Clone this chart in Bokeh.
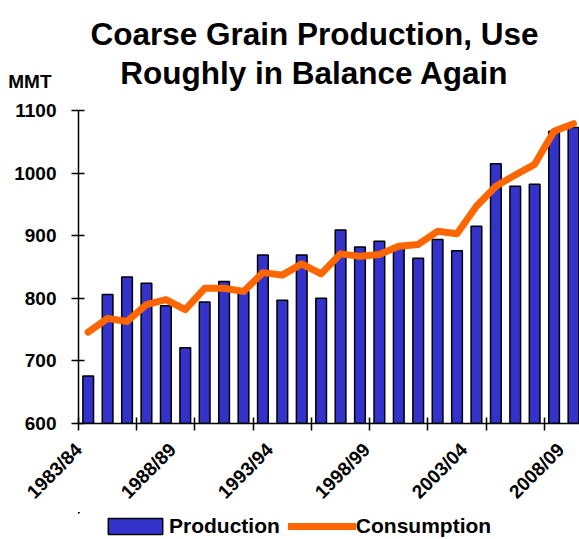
import math
from bokeh.plotting import figure
from bokeh.layouts import column
from bokeh.models import (Range1d, FixedTicker, Legend, LegendItem, ColumnDataSource)
from bokeh.core.properties import value
from bokeh.embed import file_html
from bokeh.resources import INLINE

# ---- data ----
years = ["1983/84", "1984/85", "1985/86", "1986/87", "1987/88", "1988/89",
         "1989/90", "1990/91", "1991/92", "1992/93", "1993/94", "1994/95",
         "1995/96", "1996/97", "1997/98", "1998/99", "1999/00", "2000/01",
         "2001/02", "2002/03", "2003/04", "2004/05", "2005/06", "2006/07",
         "2007/08", "2008/09"]
production = [676, 806, 834, 824, 788, 721, 794, 827, 811, 869, 797, 869,
              800, 909, 882, 891, 880, 864, 894, 876, 915, 1015, 979, 982,
              1067, 1073]
consumption = [746, 768, 763, 790, 798, 782, 816, 816, 811, 841, 837, 855,
               839, 871, 867, 870, 883, 886, 907, 903, 947, 979, 997, 1014,
               1067, 1079]
y_ticks = [600, 700, 800, 900, 1000, 1100]
label_years = ["1983/84", "1988/89", "1993/94", "1998/99", "2003/04", "2008/09"]
title_lines = ["Coarse Grain Production, Use", "Roughly in Balance Again"]
unit_label = "MMT"

FONT = "Liberation Sans"
W = 579
LEFT = 78
HEAD_H = 96
LEG_H = 27
TOTAL_H = 539

idx = list(range(len(years)))
src = ColumnDataSource(dict(x=idx, year=years, production=production,
                            consumption=consumption))
X_RANGE = (-0.5, 25.31)


def style_bold(axis, size):
    axis.major_label_text_font = FONT
    axis.major_label_text_font_size = size
    axis.major_label_text_font_style = "bold"
    axis.major_label_text_color = "black"


# ---- header (title + unit label) ----
head = figure(width=W, height=HEAD_H, x_range=Range1d(LEFT, W),
              y_range=Range1d(HEAD_H, 0), output_backend="svg",
              toolbar_location=None, min_border_left=LEFT, min_border_right=0,
              min_border_top=0, min_border_bottom=0, x_axis_type=None)
head.outline_line_color = None
head.background_fill_color = "white"
head.border_fill_color = "white"
head.ygrid.visible = False
hax = head.yaxis[0]
hax.ticker = FixedTicker(ticks=[81], minor_ticks=[])
hax.major_label_overrides = {81: unit_label}
hax.axis_line_color = None
hax.major_tick_line_color = None
hax.minor_tick_line_color = None
hax.major_tick_in = 0
hax.major_tick_out = 0
hax.major_label_standoff = 27
style_bold(hax, "19px")
head.text(x=[314, 314], y=[33, 72], text=title_lines, text_align="center",
          text_baseline="alphabetic", text_font=value(FONT),
          text_font_size="31.5px", text_font_style="bold", text_color="black")

# ---- main chart ----
p = figure(width=W, height=TOTAL_H - HEAD_H - LEG_H,
           x_range=Range1d(*X_RANGE), y_range=Range1d(600, 1100),
           output_backend="svg", toolbar_location=None,
           min_border_left=LEFT, min_border_right=0, min_border_top=14,
           min_border_bottom=89)
p.outline_line_color = None
p.xgrid.visible = False
p.ygrid.visible = False
p.background_fill_color = "white"
p.border_fill_color = "white"

p.vbar(x="x", top="production", bottom=600, width=0.55, source=src,
       fill_color="#3333CC", line_color="black", line_width=1.5)
p.line(x="x", y="consumption", source=src, line_color="#FF6600",
       line_width=7, line_join="round", line_cap="round")

yax = p.yaxis[0]
yax.ticker = FixedTicker(ticks=y_ticks, minor_ticks=[])
yax.major_tick_in = 6
yax.major_tick_out = 7
yax.major_tick_line_width = 1.5
yax.axis_line_width = 1.5
yax.axis_line_color = "black"
yax.major_label_standoff = 15
style_bold(yax, "19px")

label_pos = [max(X_RANGE[0] + 0.01, years.index(y) - 0.65) for y in label_years]
minor = [i - 0.5 for i in range(0, len(years), 3)]
xax = p.xaxis[0]
xax.ticker = FixedTicker(ticks=label_pos, minor_ticks=minor)
xax.major_label_overrides = {pos: lab for pos, lab in zip(label_pos, label_years)}
xax.major_tick_line_color = None
xax.major_tick_in = 0
xax.major_tick_out = 0
xax.minor_tick_line_color = "black"
xax.minor_tick_line_width = 1.5
xax.minor_tick_in = 6
xax.minor_tick_out = 7
xax.axis_line_width = 1.5
xax.axis_line_color = "black"
xax.major_label_orientation = math.pi / 4
xax.major_label_standoff = 16
style_bold(xax, "19px")

# ---- legend strip (its glyphs lie far outside its own view; only keys show) ----
leg = figure(width=W, height=LEG_H,
             x_range=Range1d(X_RANGE[0] + 1000, X_RANGE[1] + 1000),
             y_range=Range1d(-1000, 0), output_backend="svg",
             toolbar_location=None, min_border_left=LEFT, min_border_right=0,
             min_border_top=0, min_border_bottom=0, x_axis_type=None,
             y_axis_type=None)
leg.outline_line_color = None
leg.background_fill_color = "white"
leg.border_fill_color = "white"
lbars = leg.vbar(x="x", top="production", bottom=600, width=0.55, source=src,
                 fill_color="#3333CC", line_color="black", line_width=1.5)
lline = leg.line(x="x", y="consumption", source=src, line_color="#FF6600",
                 line_width=7, line_cap="round")
legend = Legend(items=[LegendItem(label="Production", renderers=[lbars]),
                       LegendItem(label="Consumption", renderers=[lline])],
                orientation="horizontal", location=(23, 1),
                label_text_font=FONT, label_text_font_size="21px",
                label_text_font_style="bold", label_text_color="black",
                glyph_width=68, glyph_height=20,
                label_standoff=0, spacing=8, padding=0, margin=0,
                border_line_color=None, background_fill_alpha=0)
leg.add_layout(legend)

layout = column(head, p, leg, spacing=0)
open("out.html", "w").write(file_html(layout, INLINE))
